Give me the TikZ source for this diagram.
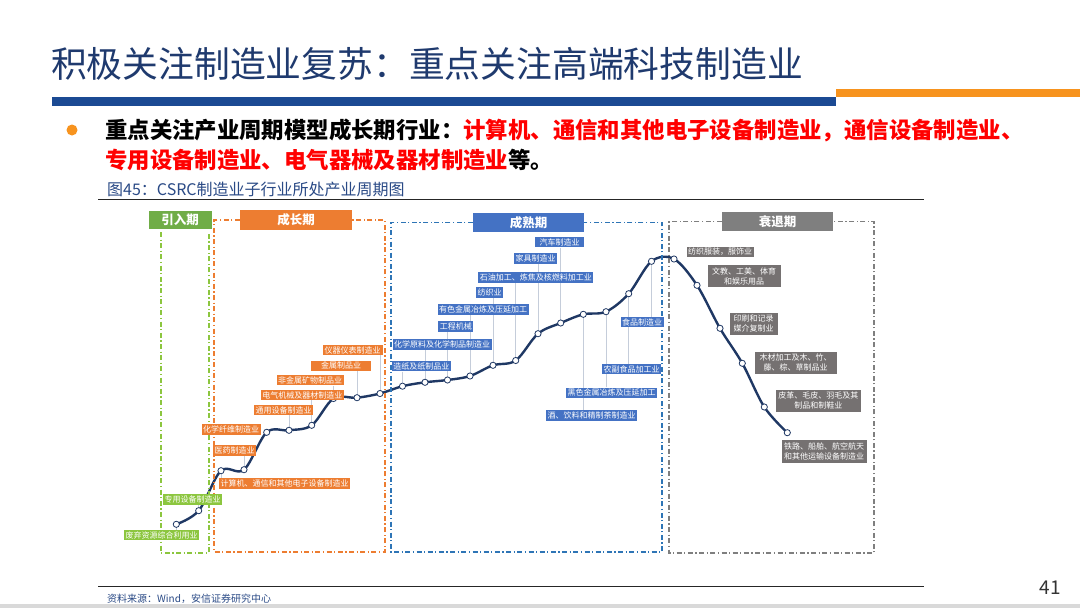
\documentclass[tikz,border=0pt]{standalone}
\usepackage{fontspec}
\setmainfont{Noto Sans CJK SC}
\definecolor{titleblue}{HTML}{1F3A6E}
\definecolor{barblue}{HTML}{1B4A93}
\definecolor{barorange}{HTML}{F7931E}
\definecolor{capblue}{HTML}{2A4A86}
\definecolor{cnavy}{HTML}{1F3864}
\definecolor{cgreen}{HTML}{70AD47}
\definecolor{lgreen}{HTML}{8CC63F}
\definecolor{corange}{HTML}{ED7D31}
\definecolor{cblue}{HTML}{4472C4}
\definecolor{dblue}{HTML}{2E75B6}
\definecolor{cgray}{HTML}{7F7F7F}
\definecolor{lgray}{HTML}{757171}
\definecolor{leadc}{HTML}{C5CDDA}
\definecolor{redtxt}{HTML}{FF0000}
\pgfdeclarelayer{back}
\pgfdeclarelayer{mid}
\pgfsetlayers{back,mid,main}
\begin{document}
\begin{tikzpicture}[x=1pt,y=-1pt,
  hdr/.style={text=white, font=\fontsize{12.5}{14}\selectfont\bfseries, inner sep=0},
  lab/.style={text=white, font=\fontsize{8}{10}\selectfont, inner xsep=1.5pt, inner ysep=0pt, minimum height=10.5pt, align=center},
  glab/.style={lab, fill=lgreen},
  olab/.style={lab, fill=corange},
  blab/.style={lab, fill=cblue},
  ylab/.style={lab, fill=lgray, minimum height=22pt},
  ddot/.style={line width=1.1pt, dash pattern=on 5pt off 2.5pt on 1.2pt off 2.5pt},
  lead/.style={draw=leadc, line width=0.6pt},
  curveline/.style={draw=cnavy, line width=2.4pt, line cap=round, line join=round},
  pt/.style={circle, draw=cnavy, fill=white, line width=0.8pt, minimum size=6.2pt, inner sep=0}
]
\useasboundingbox (0,0) rectangle (1080,608);
\begin{pgfonlayer}{back}
\fill[white] (0,0) rectangle (1080,608);
\end{pgfonlayer}

% ---------- header ----------
\node[anchor=west, text=titleblue, font=\fontsize{35.8}{40}\selectfont, inner sep=0] (title) at (51,64) {积极关注制造业复苏：重点关注高端科技制造业};
\fill[barblue] (52,97) rectangle (836,106);
\fill[barorange] (836,89) rectangle (1080,97);

\node[circle, fill=barorange, minimum size=11pt, inner sep=0] (bullet) at (72,130) {};
\node[anchor=west, inner sep=0, font=\fontsize{22.4}{26}\selectfont\bfseries] (line1) at (105,130) {重点关注产业周期模型成长期行业：\textcolor{redtxt}{计算机、通信和其他电子设备制造业，通信设备制造业、}};
\node[anchor=west, inner sep=0, font=\fontsize{22.4}{26}\selectfont\bfseries] (line2) at (105,160) {\textcolor{redtxt}{专用设备制造业、电气器械及器材制造业}等。};

\node[anchor=west, inner sep=0, text=capblue, font=\fontsize{16}{18}\selectfont] (caption) at (107,189) {图45：CSRC制造业子行业所处产业周期图};
\draw[black!85, line width=0.8pt] (98,199) -- (924,199);

% ---------- footer ----------
\draw[black!85, line width=0.8pt] (98,586) -- (924,586);
\node[anchor=west, inner sep=0, text=capblue, font=\fontsize{10}{12}\selectfont] (source) at (107,599) {资料来源：Wind，安信证券研究中心};
\node[inner sep=0, text=black!80, font=\fontsize{19}{22}\selectfont] (pageno) at (1050,588) {41};
\fill[black!15] (0,604) rectangle (1080,608);

% ---------- phase headers ----------
\node[hdr, fill=cgreen, minimum width=63pt, minimum height=18pt] (hA) at (180,220) {引入期};
\node[hdr, fill=corange, minimum width=112pt, minimum height=20pt] (hB) at (296,220) {成长期};
\node[hdr, fill=cblue, minimum width=111pt, minimum height=19pt] (hC) at (528.5,222.5) {成熟期};
\node[hdr, fill=cgray, minimum width=111pt, minimum height=19pt] (hD) at (777.5,221.5) {衰退期};

% ---------- dashed phase frames ----------
\draw[ddot, draw=lgreen] (161,232) |- (209,553) -- (209,232);
\draw[ddot, draw=corange] (hB.west) -| (214,552) -| (385,220) -- (hB.east);
\draw[ddot, draw=dblue] (hC.west) -| (391,552) -| (662,222.5) -- (hC.east);
\draw[ddot, draw=cgray] (hD.west) -| (669,553) -| (874,221.5) -- (hD.east);

% ---------- curve points ----------
\coordinate (c1) at (176.3,524.3);
\coordinate (c2) at (198.7,510.7);
\coordinate (c3) at (221,470.7);
\coordinate (c4) at (244,469.7);
\coordinate (c5) at (266.7,432.3);
\coordinate (c6) at (289,430.3);
\coordinate (c7) at (311.7,425.3);
\coordinate (c8) at (333.5,398.5);
\coordinate (c9) at (357,397.7);
\coordinate (c10) at (380,393.5);
\coordinate (c11) at (402.5,386.2);
\coordinate (c12) at (425,382.3);
\coordinate (c13) at (447.5,380);
\coordinate (c14) at (470,376);
\coordinate (c15) at (493,365.3);
\coordinate (c16) at (515.7,360.5);
\coordinate (c17) at (538,333.7);
\coordinate (c18) at (560.7,323);
\coordinate (c19) at (583.3,314.3);
\coordinate (c20) at (606,311.7);
\coordinate (c21) at (628.7,293.7);
\coordinate (c22) at (651.5,261.3);
\coordinate (c23) at (674,259);
\coordinate (c24) at (697,285.3);
\coordinate (c25) at (720,328.3);
\coordinate (c26) at (742.3,363.3);
\coordinate (c27) at (764.3,407);
\coordinate (c28) at (787.3,432.7);

% ---------- labels ----------
\node[glab, minimum width=75pt] (l1) at (161.7,535.2) {废弃资源综合利用业};
\node[glab, minimum width=58pt] (l2) at (192.5,499.3) {专用设备制造业};
\node[olab, minimum width=131pt] (l3) at (284.5,483.5) {计算机、通信和其他电子设备制造业};
\node[olab, minimum width=43pt] (l4) at (234.5,450.5) {医药制造业};
\node[olab, minimum width=58pt] (l5) at (231,429.5) {化学纤维制造业};
\node[olab, minimum width=59pt] (l6) at (283.7,410) {通用设备制造业};
\node[olab, minimum width=83pt] (l7) at (302.3,395) {电气机械及器材制造业};
\node[olab, minimum width=67pt] (l8) at (310,380.2) {非金属矿物制品业};
\node[olab, minimum width=60pt] (l9) at (341,365.8) {金属制品业};
\node[olab, minimum width=60pt] (l10) at (352.7,350) {仪器仪表制造业};
\node[blab, minimum width=59pt] (l11) at (421.3,366.2) {造纸及纸制品业};
\node[blab, minimum width=99pt] (l12) at (442.2,344.7) {化学原料及化学制品制造业};
\node[blab, minimum width=35pt] (l13) at (455.8,326.7) {工程机械};
\node[blab, minimum width=91pt] (l14) at (483.2,309.5) {有色金属冶炼及压延加工};
\node[blab, minimum width=26pt] (l15) at (489.7,292.7) {纺织业};
\node[blab, minimum width=115pt] (l16) at (535.8,277.5) {石油加工、炼焦及核燃料加工业};
\node[blab, minimum width=42pt] (l17) at (535.5,258.3) {家具制造业};
\node[blab, minimum width=49pt] (l18) at (559.5,242.2) {汽车制造业};
\node[blab, minimum width=91pt] (l19) at (591.7,415.5) {酒、饮料和精制茶制造业};
\node[blab, minimum width=91pt] (l20) at (611.7,392.8) {黑色金属冶炼及压延加工};
\node[blab, minimum width=58pt] (l21) at (631.7,369.2) {农副食品加工业};
\node[blab, minimum width=43pt] (l22) at (642,322) {食品制造业};
\node[ylab, minimum width=67pt, minimum height=10.5pt] (l23) at (720,252) {纺织服装，服饰业};
\node[ylab, minimum width=73pt] (l24) at (744.2,276.2) {文教、工美、体育\\和娱乐用品};
\node[ylab, minimum width=48pt] (l25) at (753.5,323.8) {印刷和记录\\媒介复制业};
\node[ylab, minimum width=82pt] (l26) at (795.5,362.8) {木材加工及木、竹、\\藤、棕、草制品业};
\node[ylab, minimum width=85pt] (l27) at (818.3,400.8) {皮革、毛皮、羽毛及其\\制品和制鞋业};
\node[ylab, minimum width=85pt, minimum height=23pt] (l28) at (824.2,451.7) {铁路、船舶、航空航天\\和其他运输设备制造业};

% ---------- leaders and curve (behind labels) ----------
\begin{pgfonlayer}{back}
\draw[lead] (l1.north -| c1) -- (c1);
\draw[lead] (l2.south -| c2) -- (c2);
\draw[lead] (l3.north -| c3) -- (c3);
\draw[lead] (l4.south -| c4) -- (c4);
\draw[lead] (l6.south -| c6) -- (c6);
\draw[lead] (l7.south -| c7) -- (c7);
\draw[lead] (l8.south -| c8) -- (c8);
\draw[lead] (l9.south -| c9) -- (c9);
\draw[lead] (l10.south -| c10) -- (c10);
\draw[lead] (l11.south -| c11) -- (c11);
\draw[lead] (l12.south -| c12) -- (c12);
\draw[lead] (l13.south -| c13) -- (c13);
\draw[lead] (l14.south -| c14) -- (c14);
\draw[lead] (l15.south -| c15) -- (c15);
\draw[lead] (l16.south -| c16) -- (c16);
\draw[lead] (l17.south -| c17) -- (c17);
\draw[lead] (l18.south -| c18) -- (c18);
\draw[lead] (l19.north -| c19) -- (c19);
\draw[lead] (l20.north -| c20) -- (c20);
\draw[lead] (l21.north -| c21) -- (c21);
\draw[lead] (l22.north -| c22) -- (c22);
\draw[curveline] plot[smooth, tension=0.55] coordinates {(c1) (c2) (c3) (c4) (c5) (c6) (c7) (c8) (c9) (c10) (c11) (c12) (c13) (c14) (c15) (c16) (c17) (c18) (c19) (c20) (c21) (c22) (c23) (c24) (c25) (c26) (c27) (c28)};
\end{pgfonlayer}
\begin{pgfonlayer}{mid}
\foreach \i in {1,...,28} {\node[pt] (p\i) at (c\i) {};}
\end{pgfonlayer}
\end{tikzpicture}
\end{document}
